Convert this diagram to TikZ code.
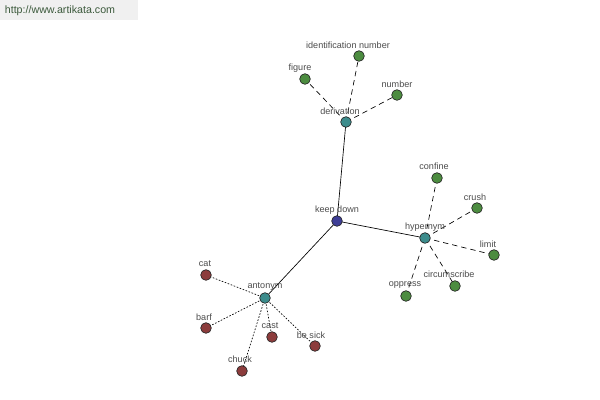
\documentclass[tikz,border=0pt]{standalone}
\usepackage{fontspec}
\setmainfont{Liberation Sans}
\definecolor{ngreen}{HTML}{4C8C40}
\definecolor{nteal}{HTML}{3C8C8C}
\definecolor{nblue}{HTML}{3E3E96}
\definecolor{nred}{HTML}{8C3C3C}
\definecolor{wmtext}{HTML}{3C5A3C}
\begin{document}
\begin{tikzpicture}[x=0.75pt,y=-0.75pt,
  dot/.style={circle,draw=black!85,line width=0.5pt,minimum size=8pt,inner sep=0pt},
  gdot/.style={dot,fill=ngreen},
  tdot/.style={dot,fill=nteal},
  bdot/.style={dot,fill=nblue},
  rdot/.style={dot,fill=nred},
  lbl/.style={font=\fontsize{6.8}{8}\selectfont,text=black!70,inner sep=0pt},
  solidedge/.style={line width=0.5pt,draw=black},
  dashedge/.style={line width=0.5pt,draw=black,dash pattern=on 4pt off 3pt},
  dotedge/.style={line width=0.5pt,draw=black,dash pattern=on 1.2pt off 1.2pt}]
\useasboundingbox (0,0) rectangle (600,400);
\fill[white] (0,0) rectangle (600,400);
\fill[black!6] (0,0) rectangle (138,20);
\node[font=\fontsize{8}{9}\selectfont,text=wmtext,inner sep=0pt] (wm) at (60,11) {http://www.artikata.com};
% node positions
\coordinate (kd) at (337,221);
\coordinate (der) at (346,122);
\coordinate (idn) at (359,56);
\coordinate (fig) at (305,79);
\coordinate (num) at (397,95);
\coordinate (hyp) at (425,238);
\coordinate (con) at (437,178);
\coordinate (cru) at (477,208);
\coordinate (lim) at (494,255);
\coordinate (cir) at (455,286);
\coordinate (opp) at (406,296);
\coordinate (ant) at (265,298);
\coordinate (cat) at (206,275);
\coordinate (bar) at (206,328);
\coordinate (cas) at (272,337);
\coordinate (bes) at (315,346);
\coordinate (chu) at (242,371);
% edges
\draw[solidedge] (kd) -- (der);
\draw[solidedge] (kd) -- (hyp);
\draw[solidedge] (kd) -- (ant);
\foreach \t in {idn,fig,num} \draw[dashedge] (der) -- (\t);
\foreach \t in {con,cru,lim,cir,opp} \draw[dashedge] (hyp) -- (\t);
\foreach \t in {cat,bar,cas,bes,chu} \draw[dotedge] (ant) -- (\t);
% dots
\node[bdot] (nkd) at (kd) {};
\node[tdot] (nder) at (der) {};
\node[tdot] (nhyp) at (hyp) {};
\node[tdot] (nant) at (ant) {};
\foreach \t in {idn,fig,num,con,cru,lim,cir,opp} \node[gdot] (n\t) at (\t) {};
\foreach \t in {cat,bar,cas,bes,chu} \node[rdot] (n\t) at (\t) {};
% labels
\node[lbl] (lkd) at (337,210) {keep down};
\node[lbl] (lder) at (340,111) {derivation};
\node[lbl] (lidn) at (348,45) {identification number};
\node[lbl] (lfig) at (300,68) {figure};
\node[lbl] (lnum) at (397,84) {number};
\node[lbl] (lhyp) at (425,227) {hypernym};
\node[lbl] (lcon) at (434,166) {confine};
\node[lbl] (lcru) at (475,197) {crush};
\node[lbl] (llim) at (488,244) {limit};
\node[lbl] (lcir) at (449,274) {circumscribe};
\node[lbl] (lopp) at (405,285) {oppress};
\node[lbl] (lant) at (265,287) {antonym};
\node[lbl] (lcat) at (205,264) {cat};
\node[lbl] (lbar) at (204,317) {barf};
\node[lbl] (lcas) at (270,326) {cast};
\node[lbl] (lbes) at (311,335) {be sick};
\node[lbl] (lchu) at (240,359) {chuck};
\end{tikzpicture}
\end{document}
